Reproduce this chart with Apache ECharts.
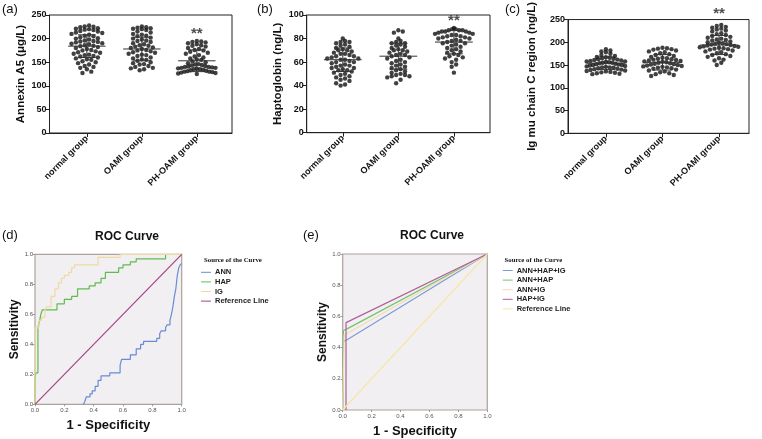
<!DOCTYPE html>
<html><head><meta charset="utf-8">
<script src="https://cdn.jsdelivr.net/npm/echarts@6/dist/echarts.min.js"></script>
<style>html,body{margin:0;padding:0;background:#fff}#c{width:762px;height:439px}</style>
</head><body><div id="c"></div>
<script>
const groups = ['normal group','OAMI group','PH-OAMI group'];
// Panel (a) Annexin A5 (μg/L)
const annNormal = [228,226,225,224,222,221,220,219,218,216,215,213,212,210,208,206,205,203,201,200,198,196,195,194,193,192,190,189,188,186,185,184,182,180,178,176,175,173,171,170,168,166,165,163,162,160,158,156,155,152,150,148,145,142,140,138,135,130,127];
const annOAMI = [226,224,223,222,221,220,218,215,213,210,208,206,205,202,200,198,196,195,193,190,188,186,185,183,181,180,178,176,175,173,171,170,168,166,165,163,160,158,156,155,153,150,148,146,145,142,140,138,137,135,133];
const annPH = [195,194,193,192,190,188,186,185,183,180,178,176,175,172,170,168,165,162,160,158,156,155,152,150,148,146,145,144,143,142,141,140,140,139,138,138,137,136,135,135,134,133,132,131,130,130,129,128,127,126,125];
const annMean = [184,178,153];
const annSD = [24,25,23];
// Panel (b) Haptoglobin (ng/L)
const hapNormal = [80,78,77,77,76,75,74,73,72,71,70,70,69,68,67,67,66,65,65,64,63,63,62,62,61,60,60,59,58,57,57,56,55,55,54,53,53,52,51,50,49,48,47,46,45,44,42,41,40];
const hapOAMI = [87,86,85,80,78,77,76,76,75,74,73,72,71,70,70,69,68,67,66,66,65,64,63,62,61,60,59,58,57,56,55,54,53,52,51,50,49,49,48,48,47,45,42];
const hapPH = [89,88,88,87,87,87,86,86,86,85,85,84,84,83,83,82,82,81,81,80,80,79,78,78,77,76,76,75,74,73,72,71,70,69,68,67,66,65,64,63,62,60,58,56,51];
const hapMean = [62,65,77];
const hapSD = [10,11,10];
// Panel (c) Ig mu chain C region (ng/L)
const igNormal = [185,182,180,178,175,172,170,168,167,166,165,164,163,162,161,160,159,158,158,157,156,155,155,154,153,152,151,150,150,149,148,147,146,145,145,144,143,142,141,140,139,138,137,136,135,134,133,132,131,130];
const igOAMI = [188,187,186,185,184,182,180,178,176,174,172,170,168,166,165,164,163,162,161,160,159,158,157,156,155,154,153,152,151,150,149,148,147,146,145,144,143,142,140,138,136,134,132,130,128,126];
const igPH = [238,236,234,232,230,228,226,224,220,218,216,214,212,210,208,206,205,204,202,200,199,198,197,196,195,194,193,192,191,190,189,188,187,186,185,184,182,180,178,176,174,172,170,168,165,162,160,155,150];
const igMean = [154,156,194];
const igSD = [14,17,21];
const starY = [211, 95, 263];

// Panel (d) ROC: [1-specificity, sensitivity]
const rocANN = [[0.33,0],[0.34,0.02],[0.35,0.05],[0.375,0.07],[0.39,0.09],[0.41,0.12],[0.43,0.16],[0.45,0.19],[0.51,0.21],[0.58,0.26],[0.59,0.30],[0.65,0.33],[0.69,0.37],[0.72,0.40],[0.74,0.42],[0.83,0.44],[0.85,0.47],[0.86,0.49],[0.89,0.51],[0.9,0.53],[0.92,0.56],[0.93,0.60],[0.94,0.65],[0.95,0.72],[0.96,0.77],[0.97,0.86],[0.98,0.91],[0.99,0.93],[1,0.94]];
const rocHAP = [[0,0],[0,0.16],[0.005,0.21],[0.02,0.51],[0.03,0.55],[0.04,0.60],[0.05,0.63],[0.15,0.67],[0.2,0.70],[0.25,0.72],[0.29,0.77],[0.37,0.79],[0.41,0.81],[0.45,0.84],[0.48,0.88],[0.57,0.91],[0.6,0.93],[0.65,0.95],[0.69,0.97],[0.89,1.0],[1,1]];
const rocIG = [[0,0],[0,0.51],[0.027,0.56],[0.045,0.58],[0.068,0.63],[0.08,0.65],[0.11,0.72],[0.136,0.77],[0.16,0.81],[0.18,0.84],[0.2,0.86],[0.23,0.88],[0.25,0.91],[0.27,0.93],[0.43,0.98],[0.58,1.0],[1,1]];
const rocRef = [[0,0],[1,1]];
// Panel (e) ROC combos
const rocAll = [[0,0],[0.005,0.44],[0.03,0.45],[1,1]];
const rocAnnHap = [[0,0],[0.005,0.51],[0.03,0.52],[1,1]];
const rocAnnIg = [[0,0],[0.01,0.48],[0.03,0.49],[1,1]];
const rocHapIg = [[0.023,0],[0.023,0.56],[1,1]];
const yNames = ['Annexin A5 (μg/L)','Haptoglobin (ng/L)','Ig mu chain C region (ng/L)'];
const yMax = [250,100,250];
const yInt = [50,20,50];

const FONT = 'Liberation Sans, Arial, sans-serif';
function swarm(vals, gi, binSize, step, maxHalf){
  const s = vals.slice().sort((a,b)=>a-b);
  const bins = new Map();
  s.forEach(v=>{const k=Math.floor(v/binSize); if(!bins.has(k)) bins.set(k,[]); bins.get(k).push(v);});
  const pts=[];
  bins.forEach(arr=>{const n=arr.length; const ord=[]; for(let k=0;k<n;k++) ord.push(k%2===0? k/2 : n-1-(k-1)/2);
    const st = n>1 ? Math.min(step, 2*maxHalf/(n-1)) : 0;
    arr.forEach((v,k)=>{pts.push([gi+(ord[k]-(n-1)/2)*st, v]);});});
  return pts;
}
const panels = [
  {sets:[annNormal,annOAMI,annPH], mean:annMean, sd:annSD, bin:10.5, grid:{left:49.5,top:15,width:182.5,height:118}, xr:[-0.68,2.64], gap:23},
  {sets:[hapNormal,hapOAMI,hapPH], mean:hapMean, sd:hapSD, bin:4.2, grid:{left:306.7,top:15,width:183.3,height:117.7}, xr:[-0.65,2.65], gap:23},
  {sets:[igNormal,igOAMI,igPH], mean:igMean, sd:igSD, bin:10.5, grid:{left:568,top:17.7,width:181,height:115.6}, xr:[-0.67,2.53], gap:30}
];
const grid=[], xAxis=[], yAxis=[], series=[];
panels.forEach((p,i)=>{
  grid.push(Object.assign({show:true,borderColor:'#222',borderWidth:1,backgroundColor:'#fff'},p.grid));
  xAxis.push({type:'value',gridIndex:i,min:p.xr[0],max:p.xr[1],
    axisLine:{show:true,onZero:false,lineStyle:{color:'#222',width:1}},splitLine:{show:false},
    axisTick:{show:true,customValues:[0,1,2],length:4,lineStyle:{color:'#222'}},
    axisLabel:{customValues:[0,1,2],rotate:45,margin:4,fontSize:9,fontWeight:'bold',color:'#111',fontFamily:FONT,
      formatter:v=>groups[Math.round(v)]}});
  yAxis.push({type:'value',gridIndex:i,min:0,max:yMax[i],interval:yInt[i],
    axisLine:{show:true,onZero:false,lineStyle:{color:'#222',width:1}},splitLine:{show:false},
    axisTick:{show:true,length:4,lineStyle:{color:'#222'}},
    axisLabel:{fontSize:9,fontWeight:'bold',color:'#111',fontFamily:FONT,margin:3},
    name:yNames[i],nameLocation:'middle',nameGap:p.gap,nameTextStyle:{fontSize:11.5,fontWeight:'bold',color:'#111',fontFamily:FONT}});
  p.sets.forEach((vals,gi)=>{
    series.push({type:'scatter',xAxisIndex:i,yAxisIndex:i,symbol:'circle',symbolSize:4.4,
      itemStyle:{color:'#111'},data:swarm(vals,gi,p.bin,0.08,0.34),silent:true,z:2});
  });
  series.push({type:'custom',xAxisIndex:i,yAxisIndex:i,z:3,
    data:p.mean.map((m,gi)=>[gi,m,p.sd[gi]]),
    renderItem:(params,api)=>{
      const g=api.value(0),m=api.value(1),s=api.value(2);
      const c=(x,y)=>api.coord([x,y]);
      const st={stroke:'#333',lineWidth:1};
      const mk=(a,b)=>({type:'line',shape:{x1:a[0],y1:a[1],x2:b[0],y2:b[1]},style:st});
      return {type:'group',children:[
        mk(c(g-0.34,m),c(g+0.34,m)),
        mk(c(g-0.16,m+s),c(g+0.16,m+s)),
        mk(c(g-0.16,m-s),c(g+0.16,m-s)),
        mk(c(g,m-s),c(g,m+s))]};
    }});
  series.push({type:'scatter',xAxisIndex:i,yAxisIndex:i,symbolSize:1,clip:false,itemStyle:{color:'rgba(0,0,0,0)'},
    data:[[2,starY[i]]],label:{show:true,position:'inside',formatter:'**',fontSize:15,fontWeight:'bold',color:'#222',fontFamily:FONT},z:4});
});
// ROC grids
const rocGrids=[{left:35,top:254.3,width:146.7,height:150},{left:342.7,top:254,width:144.6,height:156}];
const yGapR=[8,7];
rocGrids.forEach((g,k)=>{
  const gi=3+k;
  grid.push(Object.assign({show:true,backgroundColor:'#f1eff2',borderColor:'#ada29a',borderWidth:1.2},g));
  xAxis.push({type:'value',gridIndex:gi,min:0,max:1,interval:0.2,
    axisLine:{show:false,onZero:false},splitLine:{show:false},
    axisTick:{show:true,length:2,lineStyle:{color:'#999'}},
    axisLabel:{fontSize:6,color:'#555',margin:3,fontFamily:FONT,formatter:v=>v.toFixed(1)},
    name:'1 - Specificity',nameLocation:'middle',nameGap:15,nameTextStyle:{fontSize:13,fontWeight:'bold',color:'#111',fontFamily:FONT}});
  yAxis.push({type:'value',gridIndex:gi,min:0,max:1,interval:0.2,
    axisLine:{show:false,onZero:false},splitLine:{show:false},
    axisTick:{show:true,length:2,lineStyle:{color:'#999'}},
    axisLabel:{fontSize:6,color:'#555',margin:2,fontFamily:FONT,formatter:v=>v.toFixed(1)},
    name:'Sensitivity',nameLocation:'middle',nameGap:yGapR[k],nameTextStyle:{fontSize:12,fontWeight:'bold',color:'#111',fontFamily:FONT}});
});
function rocLine(name,data,color,gi,step){
  return {type:'line',name:name,xAxisIndex:gi,yAxisIndex:gi,data:data,step:step||false,symbol:'none',
    lineStyle:{color:color,width:1.2},itemStyle:{color:color},silent:true,z:2};
}
series.push(rocLine('ANN',rocANN,'#6a8bd4',3,'end'));
series.push(rocLine('HAP',rocHAP,'#5fbd4e',3,'end'));
series.push(rocLine('IG',rocIG,'#f0d9a4',3,'end'));
series.push(rocLine('Reference Line',rocRef,'#a3457e',3));
series.push(rocLine('ANN+HAP+IG',rocAll,'#7e9bd9',4));
series.push(rocLine('ANN+HAP',rocAnnHap,'#74c46b',4));
series.push(rocLine('ANN+IG',rocAnnIg,'#f1dcb2',4));
series.push(rocLine('HAP+IG',rocHapIg,'#b05f98',4));
series.push(rocLine('Reference Line ',rocRef,'#f6e7a6',4));

const legStyle={orient:'vertical',padding:0,itemWidth:10,itemHeight:8,itemGap:1.6,selectedMode:false,
  icon:'path://M0,4L10,4L10,5L0,5Z',
  textStyle:{fontSize:7.5,fontWeight:'bold',color:'#222',fontFamily:FONT,padding:[0,0,0,-1]}};
const legend=[
  Object.assign({left:201,top:268.3,data:['ANN','HAP','IG','Reference Line']},legStyle),
  Object.assign({left:502.7,top:266.5,data:['ANN+HAP+IG','ANN+HAP','ANN+IG','HAP+IG','Reference Line ']},legStyle)
];

const txt=(t,x,y,size,weight,align,family)=>({type:'text',x:x,y:y,style:{text:t,fontSize:size,fontWeight:weight||'normal',fill:'#111',textAlign:align||'left',textVerticalAlign:'middle',fontFamily:family||FONT}});
const graphic=[
  txt('(a)',2,9,13),txt('(b)',257,9,13),txt('(c)',505,9,13),
  txt('(d)',2,235,13),txt('(e)',303,235,13),
  txt('ROC Curve',127,236.5,12,'bold','center'),txt('ROC Curve',432,236,12,'bold','center'),
  txt('Source of the Curve',204,260.7,6.8,'bold','left','Liberation Serif, DejaVu Serif, serif'),
  txt('Source of the Curve',504.5,260,6.8,'bold','left','Liberation Serif, DejaVu Serif, serif')
];
const chart=echarts.init(document.getElementById('c'),null,{renderer:'canvas'});
chart.setOption({animation:false,backgroundColor:'#fff',grid,xAxis,yAxis,series,legend,graphic});
</script></body></html>
